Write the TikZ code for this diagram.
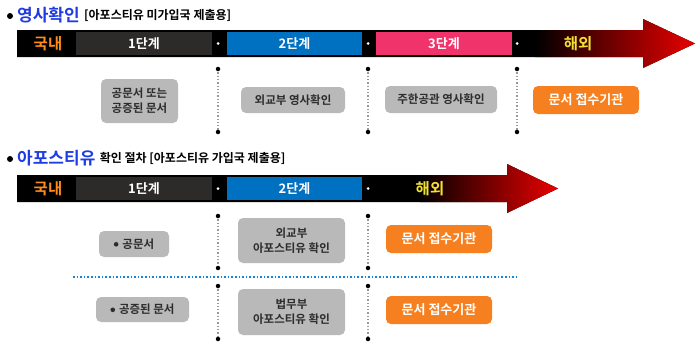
\documentclass[tikz,border=0pt]{standalone}
\usepackage{fontspec}
\setmainfont{Noto Sans CJK KR}[BoldFont={Noto Sans CJK KR Bold}]
\usetikzlibrary{positioning}

\definecolor{titleblue}{RGB}{30,60,225}
\definecolor{stagedark}{RGB}{45,42,42}
\definecolor{stageblue}{RGB}{0,112,192}
\definecolor{stagepink}{RGB}{240,52,107}
\definecolor{homeorange}{RGB}{255,140,26}
\definecolor{abroadyellow}{RGB}{240,225,50}
\definecolor{arrowred}{RGB}{235,0,0}
\definecolor{boxgrey}{RGB}{185,185,185}
\definecolor{textgrey}{RGB}{45,45,45}
\definecolor{btnorange}{RGB}{246,128,32}
\definecolor{lineblue}{RGB}{20,135,215}

\begin{document}
\begin{tikzpicture}[x=1pt, y=-1pt,
  bullet/.style={circle, fill=black, inner sep=0pt, minimum size=6pt},
  bigtitle/.style={anchor=west, inner sep=0pt, text=titleblue, font=\fontsize{17}{17}\selectfont\bfseries},
  subtitle/.style={anchor=west, inner sep=0pt, text=black, font=\fontsize{12}{12}\selectfont\bfseries},
  stagebox/.style={rectangle, minimum height=23pt, inner sep=0pt, text=white,
                   font=\fontsize{13}{12}\selectfont\bfseries},
  placelbl/.style={inner sep=0pt, font=\fontsize{15.5}{15}\selectfont\bfseries},
  bardot/.style={circle, fill=white, inner sep=0pt, minimum size=3pt},
  greybox/.style={rectangle, fill=boxgrey, rounded corners=5pt, inner sep=0pt, align=center,
                  text=textgrey, font=\fontsize{11.5}{15}\selectfont\bfseries},
  orangebox/.style={rectangle, fill=btnorange, rounded corners=5pt, inner sep=0pt,
                    minimum width=106pt, minimum height=28pt, text=white,
                    font=\fontsize{13}{14}\selectfont\bfseries},
  sepline/.style={gray!80, dotted, line width=1.3pt},
  enddot/.style={circle, fill=black, inner sep=0pt, minimum size=4.5pt},
  rowline/.style={lineblue, dotted, line width=1.6pt}
]
\useasboundingbox (0,0) rectangle (700,351);

% ---- section 1 : consular confirmation
\node[bullet] (b1) at (10,16) {};
\node[bigtitle] (t1) at (17,15) {영사확인};
\node[subtitle, right=4pt of t1] (t1sub) {[아포스티유 미가입국 제출용]};

\fill[black] (17,30) -- (643,30) -- (643,19) -- (695,43.5) -- (643,68) -- (643,57) -- (17,57) -- cycle;
\begin{scope}
  \clip (17,30) -- (643,30) -- (643,19) -- (695,43.5) -- (643,68) -- (643,57) -- (17,57) -- cycle;
  \shade[left color=black, right color=arrowred] (535,15) rectangle (696,72);
\end{scope}

\node[placelbl, text=homeorange] (home1) at (48,43.5) {국내};
\node[stagebox, fill=stagedark, minimum width=136pt] (s11) at (144,43.5) {1단계};
\node[stagebox, fill=stageblue, minimum width=135pt] (s12) at (294.5,43.5) {2단계};
\node[stagebox, fill=stagepink, minimum width=136pt] (s13) at (444,43.5) {3단계};
\node[placelbl, text=abroadyellow] (abroad1) at (578,43.5) {해외};
\node[bardot] (d11) at (218,43.5) {};
\node[bardot] (d12) at (368,43.5) {};
\node[bardot] (d13) at (517,43.5) {};

\foreach \x/\n in {218/a, 368/b, 517/c} {
  \coordinate (top1\n) at (\x,69);
  \coordinate (bot1\n) at (\x,132);
  \draw[sepline] (top1\n) -- (bot1\n);
  \node[enddot] at (top1\n) {};
  \node[enddot] at (bot1\n) {};
}

\node[greybox, minimum width=77pt, minimum height=44pt] (doc1) at (139.5,101) {공문서 또는\\공증된 문서};
\node[greybox, minimum width=104pt, minimum height=26pt] (mofa1) at (293,100) {외교부 영사확인};
\node[greybox, minimum width=112pt, minimum height=27pt] (embassy) at (441,99.5) {주한공관 영사확인};
\node[orangebox] (recv1) at (586,100) {문서 접수기관};

% ---- section 2 : apostille
\node[bullet] (b2) at (10,159) {};
\node[bigtitle] (t2) at (17,158) {아포스티유};
\node[subtitle, right=4pt of t2] (t2sub) {확인 절차 [아포스티유 가입국 제출용]};

\fill[black] (17,175) -- (507,175) -- (507,164) -- (558,188.5) -- (507,213) -- (507,202) -- (17,202) -- cycle;
\begin{scope}
  \clip (17,175) -- (507,175) -- (507,164) -- (558,188.5) -- (507,213) -- (507,202) -- (17,202) -- cycle;
  \shade[left color=black, right color=arrowred] (420,160) rectangle (559,217);
\end{scope}

\node[placelbl, text=homeorange] (home2) at (48,188.5) {국내};
\node[stagebox, fill=stagedark, minimum width=136pt] (s21) at (144,188.5) {1단계};
\node[stagebox, fill=stageblue, minimum width=135pt] (s22) at (294.5,188.5) {2단계};
\node[placelbl, text=abroadyellow] (abroad2) at (430,188.5) {해외};
\node[bardot] (d21) at (218,188.5) {};
\node[bardot] (d22) at (368,188.5) {};

\foreach \x/\n in {218/a, 368/b} {
  \coordinate (top2\n) at (\x,216);
  \coordinate (mid2\n) at (\x,268);
  \coordinate (top3\n) at (\x,286);
  \coordinate (bot3\n) at (\x,339);
  \draw[sepline] (top2\n) -- (mid2\n);
  \draw[sepline] (top3\n) -- (bot3\n);
  \node[enddot] at (top2\n) {};
  \node[enddot] at (mid2\n) {};
  \node[enddot] at (top3\n) {};
  \node[enddot] at (bot3\n) {};
}
\coordinate (rowl) at (73,277);
\coordinate (rowr) at (518,277);
\draw[rowline] (rowl) -- (rowr);

\node[greybox, minimum width=70pt, minimum height=26pt] (doc2) at (134,244)
  {\tikz[baseline=-4pt]\fill[textgrey] (0,0) circle (2.3pt);\hspace{4pt}공문서};
\node[greybox, minimum width=107pt, minimum height=45pt] (mofa2) at (291.5,240.5) {외교부\\아포스티유 확인};
\node[orangebox] (recv2) at (439,239) {문서 접수기관};

\node[greybox, minimum width=93pt, minimum height=25pt] (doc3) at (142.5,309.5)
  {\tikz[baseline=-4pt]\fill[textgrey] (0,0) circle (2.3pt);\hspace{4pt}공증된 문서};
\node[greybox, minimum width=107pt, minimum height=46pt] (moj) at (291.5,312) {법무부\\아포스티유 확인};
\node[orangebox] (recv3) at (439,310) {문서 접수기관};

\end{tikzpicture}
\end{document}
